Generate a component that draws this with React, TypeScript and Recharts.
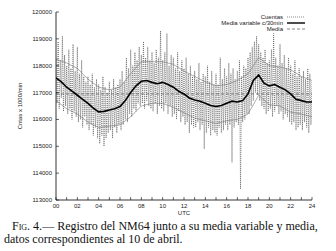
import { LineChart, Line, XAxis, YAxis, Legend } from 'recharts'

// NM64 counts, one value every 0.1 h (00:00 .. 24:00)
const cuentas = [
  118300, 116600, 118900, 116400, 118200, 116800, 119100, 116300, 118400, 116500,
  118000, 116200, 118600, 116400, 117900, 116000, 118800, 116300, 117800, 116100,
  118700, 115900, 117700, 116000, 118200, 115700, 117600, 116100, 117400, 115800,
  117600, 115600, 117300, 115800, 117700, 115400, 117200, 115700, 117500, 115300,
  117300, 115100, 117100, 115400, 117600, 115000, 117200, 115300, 117000, 115500,
  117400, 115600, 117100, 115300, 117500, 115700, 117200, 115500, 117300, 115800,
  117500, 115600, 117800, 115800, 117400, 116000, 118300, 115900, 117900, 116200,
  118600, 116100, 118000, 116400, 118500, 116300, 118200, 116600, 118700, 116500,
  118400, 116600, 118900, 116400, 118300, 116700, 118700, 116500, 118200, 116400,
  118500, 116300, 118100, 116600, 118600, 116200, 118300, 116500, 119300, 116400,
  118200, 116300, 118500, 116600, 119200, 116200, 118000, 116500, 118400, 116100,
  118300, 116200, 117900, 116000, 118500, 116300, 117800, 115900, 118200, 116100,
  117900, 115800, 118300, 115900, 117700, 115500, 118000, 115800, 117600, 115700,
  117800, 115700, 117500, 115900, 118100, 115600, 117400, 115800, 117700, 114900,
  117600, 115500, 118000, 115700, 117400, 115400, 117800, 115600, 117300, 115500,
  117700, 115400, 117300, 115700, 118300, 115500, 117500, 115600, 117900, 115800,
  117600, 115600, 118100, 115800, 117700, 114400, 117900, 115700, 117500, 115900,
  117800, 115800, 118200, 113400, 117600, 115900, 118000, 116000, 117900, 116200,
  118300, 116200, 118500, 116500, 118700, 116700, 118900, 117000, 119100, 116900,
  118800, 116700, 118500, 116500, 118300, 116400, 118600, 116200, 118100, 116300,
  118200, 116400, 118600, 116100, 119200, 116300, 118300, 116500, 118000, 116200,
  118800, 116300, 118100, 116000, 118400, 116200, 117900, 116100, 118300, 115900,
  118000, 115800, 117700, 115900, 118200, 115600, 117600, 115700, 117900, 115800,
  117600, 115600, 117800, 115900, 117500, 115700, 117900, 115500, 117700, 115800,
  117400,
]

// 30 min running mean, every 0.5 h
const mediaVariable = [
  117550, 117400, 117200, 117050, 116900, 116750, 116600, 116420, 116280, 116300,
  116350, 116400, 116480, 116700, 117000, 117250, 117420, 117450, 117380, 117330,
  117380, 117300, 117200, 117050, 116950, 116800, 116720, 116680, 116600, 116520,
  116480, 116520, 116600, 116680, 116650, 116700, 116950, 117450, 117650, 117350,
  117250, 117300, 117200, 117100, 116950, 116750, 116700, 116650, 116650,
]

// band around the running mean, every hour
const bandUpper = [
  118250, 118100, 117900, 117500, 117200, 117100, 117200, 117700, 118150, 118150,
  118150, 118050, 117800, 117600, 117400, 117250, 117300, 117450, 117700, 118300,
  118000, 117950, 117850, 117600, 117450,
]
const bandLower = [
  116700, 116400, 116200, 115900, 115700, 115750, 115800, 116100, 116500, 116600,
  116600, 116450, 116250, 116050, 115950, 115850, 115950, 116000, 116200, 116900,
  116550, 116500, 116270, 116200, 116100,
]

const media = 116950

const hourTicks = Array.from({ length: 25 }, (_, i) => i)
const yTicks = [113000, 114000, 115000, 116000, 117000, 118000, 119000, 120000]

const cuentasData = cuentas.map((v, i) => ({ t: i / 10, v }))
const mediaVarData = mediaVariable.map((v, i) => ({ t: i / 2, v }))
const upperData = bandUpper.map((v, i) => ({ t: i, v }))
const lowerData = bandLower.map((v, i) => ({ t: i, v }))
const mediaData = [
  { t: 0, v: media },
  { t: 24, v: media },
]

const font = '"Liberation Sans", Arial, sans-serif'

const BottomTick = (props: any) => {
  const { x, y, payload } = props
  const h = payload.value
  return (
    <g>
      <line x1={x} x2={x} y1={y} y2={y - 3} stroke="#000" strokeWidth={0.6} />
      {h % 2 === 0 && (
        <text x={x} y={y + 8} textAnchor="middle" fontSize={6} fontFamily={font} fill="#222">
          {String(h).padStart(2, '0')}
        </text>
      )}
    </g>
  )
}

const TopTick = (props: any) => {
  const { x, y } = props
  return <line x1={x} x2={x} y1={y} y2={y + 3} stroke="#000" strokeWidth={0.6} />
}

const LeftTick = (props: any) => {
  const { x, y, payload } = props
  return (
    <g>
      <line x1={x} x2={x + 3} y1={y} y2={y} stroke="#000" strokeWidth={0.6} />
      <text x={x - 4} y={y + 2} textAnchor="end" fontSize={6} fontFamily={font} fill="#222">
        {payload.value}
      </text>
    </g>
  )
}

const RightTick = (props: any) => {
  const { x, y } = props
  return <line x1={x} x2={x - 3} y1={y} y2={y} stroke="#000" strokeWidth={0.6} />
}

const legendRows = [
  { label: 'Cuentas', dash: '1 1', width: 0.7, color: '#555' },
  { label: 'Media variable c/30min', dash: undefined, width: 1.4, color: '#000' },
  { label: 'Media', dash: '3 2', width: 0.7, color: '#555' },
]

const renderLegend = () => (
  <svg width={96} height={24}>
    {legendRows.map((r, i) => (
      <g key={r.label}>
        <text x={71} y={8 + i * 6} textAnchor="end" fontSize={6} fontFamily={font} fill="#222">
          {r.label}
        </text>
        <line
          x1={75}
          x2={93}
          y1={6 + i * 6}
          y2={6 + i * 6}
          stroke={r.color}
          strokeWidth={r.width}
          strokeDasharray={r.dash}
        />
      </g>
    ))}
  </svg>
)

export default function App() {
  return (
    <div style={{ position: 'absolute', left: 0, top: 0, width: 336, height: 251, background: '#fff' }}>
      <LineChart width={336} height={220} margin={{ top: 12, right: 24, left: 0, bottom: 0 }}>
        <XAxis
          dataKey="t"
          type="number"
          domain={[0, 24]}
          ticks={hourTicks}
          interval={0}
          height={20}
          tickSize={0}
          tickMargin={0}
          tick={<BottomTick />}
          axisLine={{ stroke: '#000', strokeWidth: 0.8 }}
          allowDataOverflow
        />
        <XAxis
          xAxisId="top"
          orientation="top"
          dataKey="t"
          type="number"
          domain={[0, 24]}
          ticks={hourTicks}
          interval={0}
          height={0}
          tickSize={0}
          tickMargin={0}
          tick={<TopTick />}
          axisLine={{ stroke: '#000', strokeWidth: 0.8 }}
          allowDataOverflow
        />
        <YAxis
          type="number"
          domain={[113000, 120000]}
          ticks={yTicks}
          interval={0}
          width={56}
          tickSize={0}
          tickMargin={0}
          tick={<LeftTick />}
          axisLine={{ stroke: '#000', strokeWidth: 0.8 }}
          allowDataOverflow
        />
        <YAxis
          yAxisId="right"
          orientation="right"
          type="number"
          domain={[113000, 120000]}
          ticks={yTicks}
          interval={0}
          width={0}
          tickSize={0}
          tickMargin={0}
          tick={<RightTick />}
          axisLine={{ stroke: '#000', strokeWidth: 0.8 }}
          allowDataOverflow
        />
        <Legend
          layout="vertical"
          align="center"
          verticalAlign="middle"
          content={renderLegend}
          wrapperStyle={{ top: 11, left: 212, width: 96 }}
        />
        <Line
          data={cuentasData}
          dataKey="v"
          name="Cuentas"
          stroke="#555"
          strokeWidth={0.7}
          strokeDasharray="1 1"
          dot={false}
          isAnimationActive={false}
        />
        <Line data={upperData} dataKey="v" stroke="#777" strokeWidth={0.6} dot={false} legendType="none" isAnimationActive={false} />
        <Line data={lowerData} dataKey="v" stroke="#777" strokeWidth={0.6} dot={false} legendType="none" isAnimationActive={false} />
        <Line
          data={mediaData}
          dataKey="v"
          name="Media"
          xAxisId="top"
          yAxisId="right"
          stroke="#555"
          strokeWidth={0.7}
          strokeDasharray="3 2"
          dot={false}
          isAnimationActive={false}
        />
        <Line
          data={mediaVarData}
          dataKey="v"
          name="Media variable c/30min"
          stroke="#000"
          strokeWidth={1.6}
          dot={false}
          isAnimationActive={false}
        />
      </LineChart>
      <div
        style={{
          position: 'absolute',
          left: 20,
          top: 106,
          transform: 'translate(-50%, -50%) rotate(-90deg)',
          fontFamily: font,
          fontSize: 6,
          color: '#222',
          whiteSpace: 'nowrap',
        }}>
        Cntas x 1000/min
      </div>
      <div
        style={{
          position: 'absolute',
          left: 184,
          top: 213,
          transform: 'translate(-50%, -50%)',
          fontFamily: font,
          fontSize: 6,
          color: '#222',
        }}>
        UTC
      </div>
      <div
        style={{
          position: 'absolute',
          left: 4,
          top: 220,
          width: 336,
          fontFamily: '"Liberation Serif", "Times New Roman", serif',
          fontSize: 12,
          lineHeight: '12.5px',
          color: '#111',
        }}>
        <div style={{ paddingLeft: 8, whiteSpace: 'nowrap' }}>
          <span style={{ fontVariant: 'small-caps' }}>Fig. 4.</span>— Registro del NM64 junto a su media variable y media,
        </div>
        <div style={{ whiteSpace: 'nowrap' }}>datos correspondientes al 10 de abril.</div>
      </div>
    </div>
  )
}
